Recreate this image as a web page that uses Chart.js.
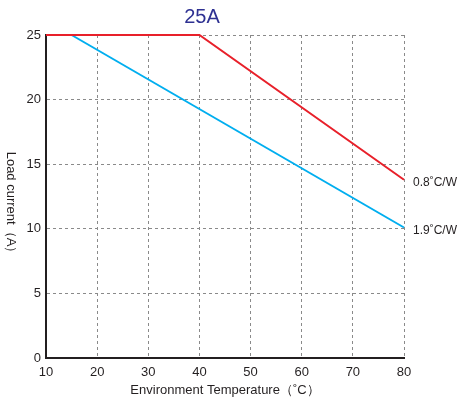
<!DOCTYPE html>
<html>
<head>
<meta charset="utf-8">
<script src="https://cdn.jsdelivr.net/npm/chart.js@4/dist/chart.umd.min.js"></script>
<style>
html,body{margin:0;padding:0;background:#fff;}
#wrap{width:462px;height:400px;position:relative;}
</style>
</head>
<body>
<div id="wrap"><canvas id="c"></canvas></div>
<script>
const chartTitle = "25A";
const xTitle = "Environment Temperature（˚C）";
const yTitle = "Load current（A）";
const redLabel = "0.8˚C/W";
const blueLabel = "1.9˚C/W";
const redX = [10, 40, 80];
const redY = [25, 25, 13.8];
const blueX = [15, 80];
const blueY = [25, 10.1];
const xTicks = [10, 20, 30, 40, 50, 60, 70, 80];
const yTicks = [0, 5, 10, 15, 20, 25];

const FONT = "'Liberation Sans', Arial, sans-serif";

const sideLabels = {
  id: 'sideLabels',
  afterDatasetsDraw(chart) {
    const ctx = chart.ctx;
    ctx.save();
    ctx.font = "12px " + FONT;
    ctx.fillStyle = "#231f20";
    ctx.textBaseline = "middle";
    ctx.textAlign = "left";
    chart.data.datasets.forEach((ds, i) => {
      const meta = chart.getDatasetMeta(i);
      const pt = meta.data[meta.data.length - 1];
      ctx.fillText(ds.label, pt.x + 9, pt.y + 3);
    });
    // y axis title, reading top to bottom
    const ca = chart.chartArea;
    ctx.translate(11, (ca.top + ca.bottom) / 2 + 9);
    ctx.rotate(Math.PI / 2);
    ctx.textAlign = "center";
    ctx.font = "13px " + FONT;
    ctx.fillText(yTitle, 0, 0);
    ctx.restore();
  }
};

new Chart(document.getElementById('c'), {
  type: 'line',
  data: {
    datasets: [
      { label: redLabel, data: redX.map((x, i) => ({x, y: redY[i]})), borderColor: '#e8202a', borderWidth: 2, pointRadius: 0, tension: 0, fill: false, clip: false },
      { label: blueLabel, data: blueX.map((x, i) => ({x, y: blueY[i]})), borderColor: '#00aeef', borderWidth: 2, pointRadius: 0, tension: 0, fill: false, clip: false }
    ]
  },
  options: {
    responsive: true,
    maintainAspectRatio: false,
    animation: false,
    layout: { padding: { left: 0, right: 58, top: 0, bottom: 0 } },
    plugins: {
      legend: { display: false },
      tooltip: { enabled: false },
      title: { display: true, text: chartTitle, color: '#2e3192', font: { family: FONT, size: 20, weight: 'normal' }, padding: { top: 5, bottom: 6 } }
    },
    scales: {
      x: {
        type: 'linear', min: 10, max: 80,
        afterBuildTicks: (s) => { s.ticks = xTicks.map(v => ({value: v})); },
        afterFit: (s) => { s.height = 42; },
        grid: { color: '#8a8a8a', lineWidth: 1, drawTicks: false },
        border: { display: true, color: '#231f20', width: 2, dash: [3, 3] },
        ticks: { color: '#231f20', font: { family: FONT, size: 13 }, padding: 7, maxRotation: 0 },
        title: { display: true, text: xTitle, color: '#231f20', font: { family: FONT, size: 13 }, padding: { top: 0, bottom: 2 } }
      },
      y: {
        type: 'linear', min: 0, max: 25,
        afterBuildTicks: (s) => { s.ticks = yTicks.map(v => ({value: v})); },
        afterFit: (s) => { s.width = 46; },
        grid: { color: '#8a8a8a', lineWidth: 1, drawTicks: false },
        border: { display: true, color: '#231f20', width: 2, dash: [3, 3] },
        ticks: { color: '#231f20', font: { family: FONT, size: 13 }, padding: 5 }
      }
    }
  },
  plugins: [sideLabels]
});
</script>
</body>
</html>
